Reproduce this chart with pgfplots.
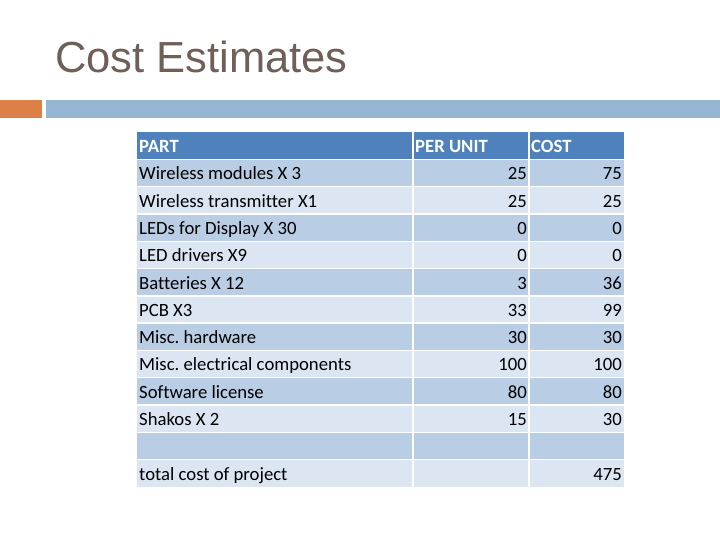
\documentclass[border=0pt]{standalone}
\usepackage{fontspec}
\setmainfont{Carlito}[Ligatures={NoCommon}]
\newfontfamily\titlefont{Liberation Sans}
\usepackage{pgfplots}
\usepackage{pgfplotstable}
\pgfplotsset{compat=1.18}
\frenchspacing
\definecolor{hdr}{HTML}{4F81BD}
\definecolor{rowA}{HTML}{B9CDE5}
\definecolor{rowB}{HTML}{DCE6F2}
\definecolor{titlec}{HTML}{6F5F58}
\definecolor{orangebar}{HTML}{DD8047}
\definecolor{bluebar}{HTML}{94B6D2}

\pgfplotstableread[col sep=comma]{
x,y,label
139,172.8,Wireless modules X 3
139,200.1,Wireless transmitter X1
139,227.4,LEDs for Display X 30
139,254.7,LED drivers X9
139,282.0,Batteries X 12
139,309.3,PCB X3
139,336.6,Misc. hardware
139,363.9,Misc. electrical components
139,391.2,Software license
139,418.5,Shakos X 2
139,473.1,total cost of project
}\parts

\pgfplotstableread[col sep=comma]{
y,unit
172.8,25
200.1,25
227.4,0
254.7,0
282.0,3
309.3,33
336.6,30
363.9,100
391.2,80
418.5,15
}\perunit

\pgfplotstableread[col sep=comma]{
y,cost
172.8,75
200.1,25
227.4,0
254.7,0
282.0,36
309.3,99
336.6,30
363.9,100
391.2,80
418.5,30
473.1,475
}\costs

\pgfplotstableread[col sep=comma]{
x,y,label
139,145.5,PART
415,145.5,PER UNIT
531,145.5,COST
}\header

\begin{document}
\begin{tikzpicture}
\begin{axis}[
  width=720pt, height=540pt, scale only axis,
  xmin=0, xmax=720, ymin=0, ymax=540, y dir=reverse,
  hide axis, clip=false, unbounded coords=jump,
]
\addplot[draw=none, mark=none] coordinates {(0,0) (720,540)};
% decorative bars
\addplot[fill=orangebar, draw=none] coordinates {(0,100) (42,100) (42,118) (0,118)} -- cycle;
\addplot[fill=bluebar, draw=none] coordinates {(46,100) (720,100) (720,118) (46,118)} -- cycle;
% title
\node[anchor=base west, inner sep=0pt, text=titlec, font=\titlefont\fontsize{43.5}{48}\selectfont] at (axis cs:55,73) {Cost Estimates};
% table backgrounds
\addplot[fill=hdr, draw=none] coordinates {(137,132) (624,132) (624,159.3) (137,159.3)} -- cycle;
\addplot[fill=rowB, draw=none] coordinates {(137,159.3) (624,159.3) (624,486.9) (137,486.9)} -- cycle;
\addplot[fill=rowA, draw=none] coordinates {(137,159.3) (624,159.3) (624,186.6) (137,186.6)} -- cycle;
\addplot[fill=rowA, draw=none] coordinates {(137,213.9) (624,213.9) (624,241.2) (137,241.2)} -- cycle;
\addplot[fill=rowA, draw=none] coordinates {(137,268.5) (624,268.5) (624,295.8) (137,295.8)} -- cycle;
\addplot[fill=rowA, draw=none] coordinates {(137,323.1) (624,323.1) (624,350.4) (137,350.4)} -- cycle;
\addplot[fill=rowA, draw=none] coordinates {(137,377.7) (624,377.7) (624,405.0) (137,405.0)} -- cycle;
\addplot[fill=rowA, draw=none] coordinates {(137,432.3) (624,432.3) (624,459.6) (137,459.6)} -- cycle;
% white grid lines
\addplot[white, line width=1.4pt, mark=none] coordinates {
 (137,159.3) (624,159.3) (137,nan)
 (137,186.6) (624,186.6) (137,nan)
 (137,213.9) (624,213.9) (137,nan)
 (137,241.2) (624,241.2) (137,nan)
 (137,268.5) (624,268.5) (137,nan)
 (137,295.8) (624,295.8) (137,nan)
 (137,323.1) (624,323.1) (137,nan)
 (137,350.4) (624,350.4) (137,nan)
 (137,377.7) (624,377.7) (137,nan)
 (137,405.0) (624,405.0) (137,nan)
 (137,432.3) (624,432.3) (137,nan)
 (137,459.6) (624,459.6) (137,nan)
 (413,132) (413,486.9) (137,nan)
 (529,132) (529,486.9)
};
% header text
\addplot[draw=none, mark=none, nodes near coords, point meta=explicit symbolic,
  every node near coord/.style={anchor=base west, inner sep=0pt, yshift=-7pt, text=white,
  font=\bfseries\fontsize{18.7}{20}\selectfont}]
  table[x=x, y=y, meta=label] {\header};
% part names
\addplot[draw=none, mark=none, nodes near coords, point meta=explicit symbolic,
  every node near coord/.style={anchor=base west, inner sep=0pt, yshift=-7pt, text=black,
  font=\fontsize{18.7}{20}\selectfont}]
  table[x=x, y=y, meta=label] {\parts};
% per unit
\addplot[draw=none, mark=none, nodes near coords, point meta=explicit symbolic,
  every node near coord/.style={anchor=base east, inner sep=0pt, yshift=-7pt, text=black,
  font=\fontsize{18.7}{20}\selectfont}]
  table[x expr=527, y=y, meta=unit] {\perunit};
% cost
\addplot[draw=none, mark=none, nodes near coords, point meta=explicit symbolic,
  every node near coord/.style={anchor=base east, inner sep=0pt, yshift=-7pt, text=black,
  font=\fontsize{18.7}{20}\selectfont}]
  table[x expr=622, y=y, meta=cost] {\costs};
\end{axis}
\end{tikzpicture}
\end{document}
